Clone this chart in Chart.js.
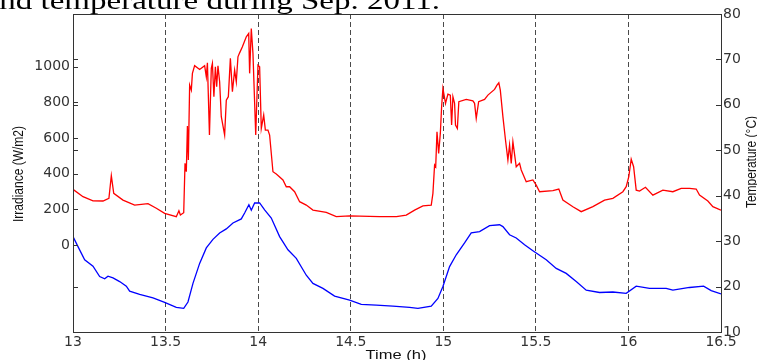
<!DOCTYPE html>
<html>
<head>
<meta charset="utf-8">
<script src="https://cdn.jsdelivr.net/npm/chart.js@4.4.0/dist/chart.umd.min.js"></script>
<style>
  html, body { margin: 0; padding: 0; background: #fff; overflow: hidden; }
  #irrChart { display: block; }
</style>
</head>
<body>
<canvas id="irrChart" width="757" height="360"></canvas>
<script>
// irradiance (W/m2), left axis
const irrTime = [
  13.000, 13.054, 13.108, 13.162, 13.194, 13.207, 13.220, 13.270, 13.333, 13.405,
  13.450, 13.495, 13.558, 13.572, 13.580, 13.598, 13.605, 13.612, 13.618, 13.623,
  13.630, 13.639, 13.645, 13.657, 13.684, 13.711, 13.720, 13.726, 13.737, 13.747,
  13.753, 13.761, 13.769, 13.776, 13.783, 13.792, 13.801, 13.819, 13.828, 13.839,
  13.850, 13.861, 13.873, 13.882, 13.891, 13.900, 13.915, 13.936, 13.949, 13.954,
  13.963, 13.972, 13.987, 13.999, 14.008, 14.017, 14.030, 14.039, 14.053, 14.062,
  14.080, 14.098, 14.134, 14.152, 14.170, 14.197, 14.224, 14.260, 14.296, 14.368,
  14.422, 14.494, 14.656, 14.747, 14.800, 14.845, 14.890, 14.935, 14.944, 14.953,
  14.959, 14.966, 14.975, 14.984, 14.991, 14.998, 15.012, 15.025, 15.038, 15.045,
  15.052, 15.061, 15.066, 15.076, 15.084, 15.124, 15.160, 15.169, 15.178, 15.191,
  15.223, 15.241, 15.277, 15.290, 15.300, 15.308, 15.322, 15.336, 15.349, 15.358,
  15.367, 15.376, 15.394, 15.412, 15.421, 15.448, 15.484, 15.502, 15.520, 15.592,
  15.624, 15.646, 15.700, 15.745, 15.808, 15.871, 15.916, 15.970, 15.988, 16.002,
  16.015, 16.028, 16.042, 16.060, 16.092, 16.132, 16.186, 16.240, 16.285, 16.330,
  16.366, 16.384, 16.429, 16.456, 16.500
];
const irrValues = [
  312, 271, 248, 247, 262, 389, 290, 252, 224, 232,
  206, 178, 159, 192, 168, 181, 458, 411, 667, 477,
  897, 869, 963, 1006, 985, 1006, 944, 1022, 617, 991,
  1019, 832, 1000, 888, 1006, 916, 720, 617, 813, 832,
  1047, 860, 981, 916, 1056, 1078, 1112, 1168, 1187, 963,
  1215, 1075, 617, 1009, 1000, 654, 729, 645, 645, 617,
  411, 398, 365, 327, 327, 299, 243, 224, 196, 183,
  159, 164, 159, 159, 168, 196, 219, 224, 290, 449,
  439, 635, 514, 626, 776, 879, 795, 847, 841, 673,
  832, 795, 673, 654, 804, 817, 809, 795, 711, 804,
  817, 841, 873, 897, 910, 869, 720, 589, 477, 561,
  458, 579, 439, 458, 421, 355, 365, 336, 299, 305,
  314, 252, 215, 187, 215, 252, 262, 299, 327, 383,
  481, 439, 308, 303, 324, 280, 308, 299, 318, 318,
  314, 280, 247, 215, 195
];

// temperature (°C), right axis
const tempTime = [
  13.000, 13.027, 13.063, 13.108, 13.144, 13.171, 13.189, 13.216, 13.252, 13.288,
  13.306, 13.360, 13.432, 13.495, 13.558, 13.598, 13.621, 13.648, 13.684, 13.720,
  13.756, 13.792, 13.828, 13.864, 13.909, 13.927, 13.950, 13.963, 13.981, 14.008,
  14.035, 14.071, 14.116, 14.161, 14.206, 14.260, 14.296, 14.350, 14.413, 14.494,
  14.557, 14.638, 14.728, 14.818, 14.863, 14.935, 14.971, 14.998, 15.034, 15.070,
  15.115, 15.151, 15.196, 15.250, 15.304, 15.322, 15.358, 15.394, 15.439, 15.484,
  15.556, 15.610, 15.664, 15.718, 15.772, 15.844, 15.916, 15.988, 16.042, 16.114,
  16.204, 16.240, 16.330, 16.406, 16.447, 16.500
];
const tempValues = [
  31.0, 28.8, 25.9, 24.5, 22.2, 21.7, 22.3, 21.9, 21.1, 20.1,
  19.0, 18.3, 17.5, 16.5, 15.4, 15.2, 16.6, 20.7, 25.1, 28.5,
  30.4, 31.8, 32.7, 34.0, 34.9, 36.2, 38.0, 36.8, 38.4, 38.4,
  36.9, 35.1, 31.0, 28.1, 26.2, 22.5, 20.7, 19.6, 17.9, 17.0,
  16.1, 15.9, 15.7, 15.4, 15.2, 15.7, 17.4, 20.0, 24.4, 27.0,
  29.6, 31.8, 32.1, 33.4, 33.6, 33.2, 31.4, 30.7, 29.2, 27.9,
  25.9, 24.0, 22.9, 21.1, 19.2, 18.7, 18.8, 18.5, 20.1, 19.6,
  19.6, 19.2, 19.8, 20.1, 19.1, 18.4
];

const timeTicks = [13, 13.5, 14, 14.5, 15, 15.5, 16, 16.5];
const irrTicks = [0, 200, 400, 600, 800, 1000];
const tempTicks = [10, 20, 30, 40, 50, 60, 70, 80];
// right-axis ticks that also show on the left edge
const mirroredTempTicks = [20, 50, 60, 70];

const titleText = 'and temperature during Sep. 2011.';
const xTitle = 'Time (h)';
const irrTitle = 'Irradiance (W/m2)';
const tempTitle = 'Temperature (\u00B0C)';

const STRETCH = 1.27;
const AXIS_COLOR = '#333';
const TICK_FONT = { family: 'DejaVu Sans', size: 14 };
const plainNumber = v => String(v);

function toPoints(xs, ys) {
  return xs.map((x, i) => ({ x: x, y: ys[i] }));
}

function wideText(ctx, text, x, y, font, angle, align, baseline) {
  ctx.save();
  ctx.translate(x, y);
  ctx.scale(STRETCH, 1);
  if (angle) ctx.rotate(angle);
  ctx.font = font;
  ctx.fillStyle = '#111';
  ctx.textAlign = align || 'center';
  ctx.textBaseline = baseline || 'middle';
  ctx.fillText(text, 0, 0);
  ctx.restore();
}

const frameAndLabels = {
  id: 'frameAndLabels',
  afterDraw(chart) {
    const { ctx, chartArea: a, scales } = chart;

    // box around the plot
    ctx.save();
    ctx.strokeStyle = AXIS_COLOR;
    ctx.lineWidth = 1;
    ctx.strokeRect(Math.round(a.left) + 0.5, Math.round(a.top) + 0.5,
                   Math.round(a.right - a.left), Math.round(a.bottom - a.top));

    // inward tick marks
    ctx.beginPath();
    irrTicks.forEach(v => {
      const y = Math.round(scales.yIrr.getPixelForValue(v)) + 0.5;
      ctx.moveTo(a.left, y); ctx.lineTo(a.left + 5, y);
    });
    mirroredTempTicks.forEach(v => {
      const y = Math.round(scales.yTemp.getPixelForValue(v)) + 0.5;
      ctx.moveTo(a.left, y); ctx.lineTo(a.left + 5, y);
    });
    tempTicks.forEach(v => {
      const y = Math.round(scales.yTemp.getPixelForValue(v)) + 0.5;
      ctx.moveTo(a.right, y); ctx.lineTo(a.right - 5, y);
    });
    ctx.stroke();
    ctx.restore();

    // figure caption sitting above the axes
    ctx.save();
    ctx.scale(STRETCH, 1);
    ctx.font = '26px "Liberation Serif"';
    ctx.fillStyle = '#000';
    ctx.textAlign = 'right';
    ctx.textBaseline = 'alphabetic';
    ctx.fillText(titleText, 440 / STRETCH, 9);
    ctx.restore();

    // axis titles
    wideText(ctx, xTitle, 396, 355, '13px "Liberation Sans"');
    wideText(ctx, irrTitle, 18.5, 174, '12px "Liberation Sans"', -Math.PI / 2);
    wideText(ctx, tempTitle, 752, 162, '12px "Liberation Sans"', -Math.PI / 2);
  }
};

new Chart(document.getElementById('irrChart').getContext('2d'), {
  type: 'line',
  data: {
    datasets: [
      {
        label: 'Irradiance',
        data: toPoints(irrTime, irrValues),
        borderColor: '#ff0000',
        borderWidth: 1.3,
        pointRadius: 0,
        tension: 0,
        yAxisID: 'yIrr'
      },
      {
        label: 'Temperature',
        data: toPoints(tempTime, tempValues),
        borderColor: '#0000ff',
        borderWidth: 1.3,
        pointRadius: 0,
        tension: 0,
        yAxisID: 'yTemp'
      }
    ]
  },
  options: {
    responsive: false,
    animation: false,
    devicePixelRatio: 1,
    layout: { padding: { top: 14, left: 0, right: 0, bottom: 0 } },
    plugins: {
      legend: { display: false },
      tooltip: { enabled: false }
    },
    scales: {
      x: {
        type: 'linear',
        position: 'bottom',
        min: 13,
        max: 16.5,
        afterBuildTicks: s => { s.ticks = timeTicks.map(v => ({ value: v })); },
        afterFit: s => { s.height = 28; },
        ticks: { color: AXIS_COLOR, font: TICK_FONT, padding: 2, maxRotation: 0, callback: plainNumber },
        grid: {
          drawTicks: false,
          lineWidth: 1,
          color: c => (c.tick && (c.tick.value === 13 || c.tick.value === 16.5)) ? 'rgba(0,0,0,0)' : '#4a4a4a'
        },
        border: { display: false, dash: [5, 3] }
      },
      yIrr: {
        type: 'linear',
        position: 'left',
        min: -488,
        max: 1296,
        afterBuildTicks: s => { s.ticks = irrTicks.map(v => ({ value: v })); },
        afterFit: s => { s.width = 73; },
        ticks: { color: AXIS_COLOR, font: TICK_FONT, padding: 3, callback: plainNumber },
        grid: { display: false, drawTicks: false },
        border: { display: false }
      },
      yTemp: {
        type: 'linear',
        position: 'right',
        min: 10,
        max: 80,
        afterBuildTicks: s => { s.ticks = tempTicks.map(v => ({ value: v })); },
        afterFit: s => { s.width = 36; },
        ticks: { color: AXIS_COLOR, font: TICK_FONT, padding: 2, callback: plainNumber },
        grid: { display: false, drawTicks: false },
        border: { display: false }
      }
    }
  },
  plugins: [frameAndLabels]
});
</script>
</body>
</html>
